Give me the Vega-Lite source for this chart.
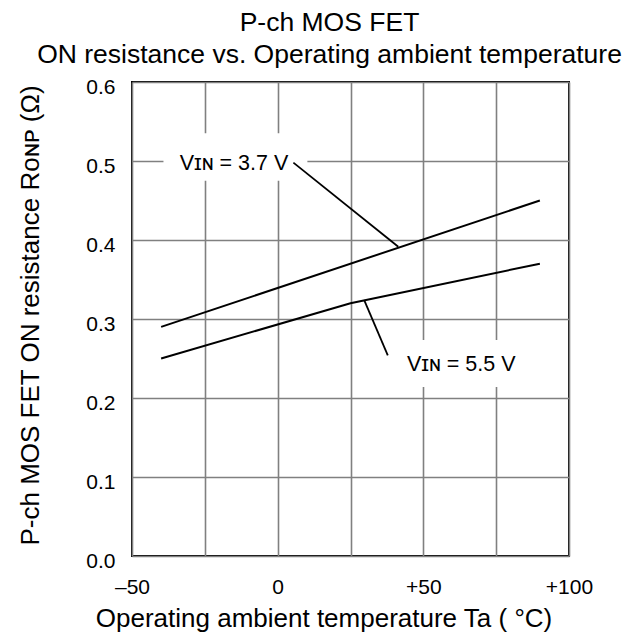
{
  "$schema": "https://vega.github.io/schema/vega-lite/v6.json",
  "width": 437,
  "height": 474,
  "autosize": "none",
  "padding": {"left": 132, "top": 82, "right": 65, "bottom": 84},
  "background": "white",
  "title": {
    "text": ["P-ch MOS FET", "ON resistance vs. Operating ambient temperature"],
    "fontSize": 26.5,
    "fontWeight": "normal",
    "lineHeight": 32,
    "anchor": "middle",
    "dx": -21,
    "offset": 8,
    "color": "black"
  },
  "config": {
    "font": "Liberation Sans",
    "view": {"stroke": "black", "strokeWidth": 2},
    "axis": {
      "grid": true,
      "gridColor": "#808080",
      "gridWidth": 1.6,
      "gridOpacity": 1,
      "ticks": false,
      "domain": false,
      "labelFontSize": 21,
      "labelColor": "black",
      "titleFontSize": 26,
      "titleFontWeight": "normal",
      "titleColor": "black",
      "labelFlush": false,
      "labelOverlap": false
    }
  },
  "datasets": {
    "masks": [
      {"x1": -39.2, "x2": 10.2, "y1": 0.475, "y2": 0.535},
      {"x1": 42, "x2": 85, "y1": 0.214, "y2": 0.2734}
    ],
    "curves": [
      {"vin": "3.7 V", "t": -40, "r": 0.29},
      {"vin": "3.7 V", "t": 90, "r": 0.45},
      {"vin": "5.5 V", "t": -40, "r": 0.25},
      {"vin": "5.5 V", "t": 25, "r": 0.32},
      {"vin": "5.5 V", "t": 90, "r": 0.37}
    ],
    "leaders": [
      {"vin": "3.7 V", "x1": 5.4, "y1": 0.498, "x2": 41.4, "y2": 0.3915},
      {"vin": "5.5 V", "x1": 29.7, "y1": 0.324, "x2": 37.8, "y2": 0.254}
    ],
    "labels": [
      {"t": -15, "r": 0.496, "text": "Vɪɴ = 3.7 V"},
      {"t": 63, "r": 0.242, "text": "Vɪɴ = 5.5 V"}
    ]
  },
  "layer": [
    {
      "data": {"name": "masks"},
      "mark": {"type": "rect", "color": "white"},
      "encoding": {
        "x": {
          "field": "x1",
          "type": "quantitative",
          "scale": {"domain": [-50, 100], "nice": false, "zero": false},
          "axis": {
            "values": [-50, -25, 0, 25, 50, 75, 100],
            "labelExpr": "datum.value == -50 ? '–50' : datum.value == 0 ? '0' : datum.value == 50 ? '+50' : datum.value == 100 ? '+100' : ''",
            "title": "Operating ambient temperature Ta ( °C)",
            "labelPadding": 20,
            "titlePadding": 8,
            "titleX": 191.5
          }
        },
        "x2": {"field": "x2"},
        "y": {
          "field": "y1",
          "type": "quantitative",
          "scale": {"domain": [0, 0.6], "nice": false},
          "axis": {
            "values": [0, 0.1, 0.2, 0.3, 0.4, 0.5, 0.6],
            "format": ".1f",
            "title": "P-ch MOS FET ON resistance Rᴏɴᴘ (Ω)",
            "labelPadding": 17,
            "labelOffset": 5,
            "titlePadding": 42,
            "titleY": 233
          }
        },
        "y2": {"field": "y2"}
      }
    },
    {
      "data": {"name": "curves"},
      "mark": {"type": "line", "color": "black", "strokeWidth": 2},
      "encoding": {
        "x": {"field": "t", "type": "quantitative"},
        "y": {"field": "r", "type": "quantitative"},
        "detail": {"field": "vin"}
      }
    },
    {
      "data": {"name": "leaders"},
      "mark": {"type": "rule", "color": "black", "strokeWidth": 1.8},
      "encoding": {
        "x": {"field": "x1", "type": "quantitative"},
        "y": {"field": "y1", "type": "quantitative"},
        "x2": {"field": "x2"},
        "y2": {"field": "y2"}
      }
    },
    {
      "data": {"name": "labels"},
      "mark": {"type": "text", "color": "black", "fontSize": 21.5, "align": "center", "baseline": "middle"},
      "encoding": {
        "x": {"field": "t", "type": "quantitative"},
        "y": {"field": "r", "type": "quantitative"},
        "text": {"field": "text"}
      }
    }
  ]
}
